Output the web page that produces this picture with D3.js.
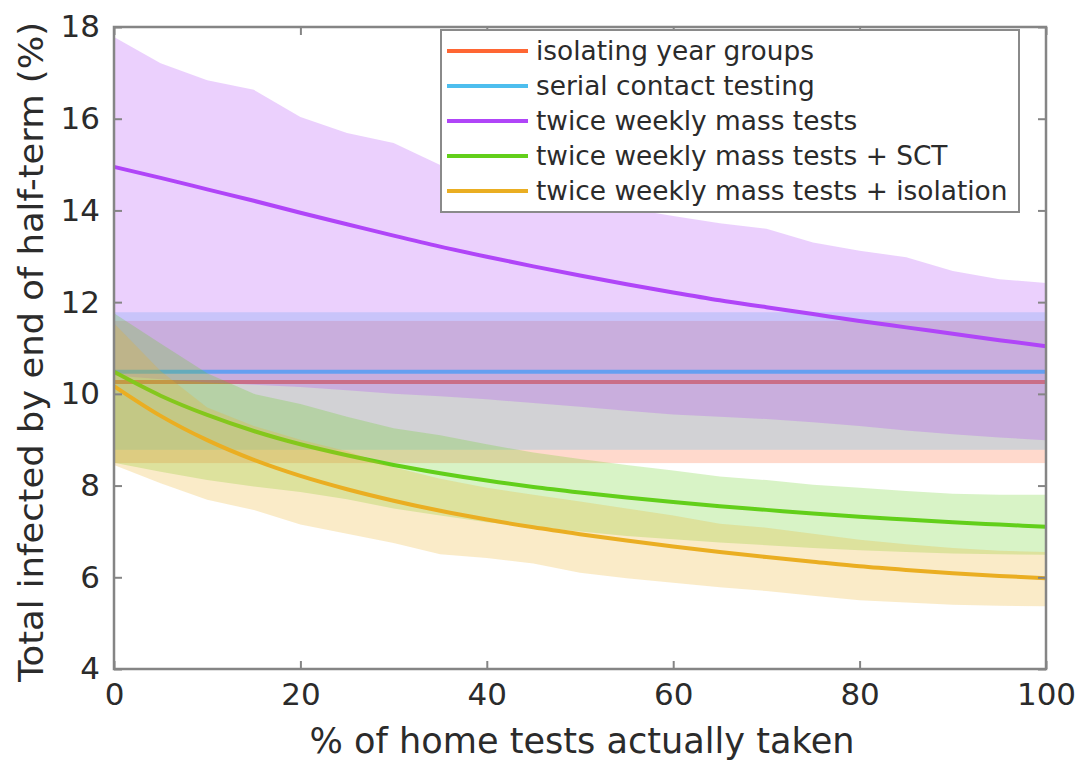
<!DOCTYPE html>
<html>
<head>
<meta charset="utf-8">
<script src="https://cdn.jsdelivr.net/npm/d3@7"></script>
<style>
  html, body { margin: 0; padding: 0; background: #fff; }
  svg text { font-family: "DejaVu Sans", sans-serif; fill: #2b2b2b; }
</style>
</head>
<body>
<svg id="chart" width="1080" height="762"></svg>
<script>
// % of home tests actually taken
const uptake = [0, 5, 10, 15, 20, 25, 30, 35, 40, 45, 50, 55, 60, 65, 70, 75, 80, 85, 90, 95, 100];

// twice weekly mass tests
const massMean  = [14.95, 14.71, 14.46, 14.21, 13.95, 13.70, 13.45, 13.21, 12.99, 12.78, 12.58, 12.39, 12.21, 12.04, 11.89, 11.74, 11.59, 11.45, 11.31, 11.17, 11.04];
const massUpper = [17.78, 17.21, 16.84, 16.63, 16.04, 15.69, 15.47, 14.99, 14.75, 14.50, 14.30, 14.05, 13.88, 13.72, 13.60, 13.30, 13.12, 12.98, 12.68, 12.50, 12.42];
const massLower = [10.40, 10.32, 10.25, 10.20, 10.15, 10.08, 10.00, 9.95, 9.88, 9.80, 9.72, 9.63, 9.55, 9.50, 9.45, 9.38, 9.30, 9.20, 9.12, 9.05, 8.99];

// twice weekly mass tests + SCT
const sctMean  = [10.48, 9.96, 9.54, 9.19, 8.90, 8.66, 8.45, 8.27, 8.11, 7.97, 7.85, 7.74, 7.64, 7.55, 7.47, 7.39, 7.32, 7.26, 7.20, 7.15, 7.10];
const sctUpper = [11.76, 11.10, 10.45, 10.00, 9.78, 9.50, 9.25, 9.10, 8.90, 8.72, 8.58, 8.45, 8.33, 8.20, 8.12, 8.02, 7.95, 7.88, 7.82, 7.80, 7.80];
const sctLower = [8.50, 8.30, 8.12, 7.98, 7.86, 7.70, 7.50, 7.35, 7.20, 7.10, 7.00, 6.90, 6.83, 6.76, 6.70, 6.64, 6.59, 6.55, 6.52, 6.50, 6.49];

// twice weekly mass tests + isolation
const isoMean  = [10.17, 9.52, 8.99, 8.56, 8.21, 7.92, 7.67, 7.45, 7.26, 7.09, 6.94, 6.80, 6.67, 6.55, 6.44, 6.34, 6.24, 6.16, 6.09, 6.03, 5.98];
const isoUpper = [11.54, 10.50, 9.70, 9.30, 9.00, 8.75, 8.40, 8.15, 7.95, 7.80, 7.65, 7.50, 7.35, 7.17, 7.08, 6.95, 6.82, 6.72, 6.64, 6.58, 6.55];
const isoLower = [8.45, 8.05, 7.69, 7.47, 7.15, 6.95, 6.75, 6.50, 6.42, 6.30, 6.10, 5.98, 5.88, 5.78, 5.70, 5.60, 5.50, 5.45, 5.40, 5.38, 5.37];

// strategies that do not depend on home-test uptake: [lower, mean, upper]
const yearGroups = [8.49, 10.26, 11.59];
const serialContact = [8.78, 10.48, 11.78];

const legendLabels = [
  "isolating year groups",
  "serial contact testing",
  "twice weekly mass tests",
  "twice weekly mass tests + SCT",
  "twice weekly mass tests + isolation"
];
const colors = ["#FF6633", "#4DBEEE", "#B045F8", "#62CF1A", "#EAAE22"];

const xTicks = [0, 20, 40, 60, 80, 100];
const yTicks = [4, 6, 8, 10, 12, 14, 16, 18];

const svg = d3.select("#chart");
const plot = { left: 114, right: 1046, top: 27, bottom: 669 };

const x = d3.scaleLinear().domain([0, 100]).range([plot.left, plot.right]);
const y = d3.scaleLinear().domain([4, 18]).range([plot.bottom, plot.top]);

const band = (lo, hi) => d3.area()
  .x((d, i) => x(uptake[i]))
  .y0((d, i) => y(lo[i]))
  .y1((d, i) => y(hi[i]));

const meanLine = d3.line()
  .x((d, i) => x(uptake[i]))
  .y(d => y(d))
  .curve(d3.curveMonotoneX);

const g = svg.append("g");
const alpha = 0.25;
const lw = 4;

// constant strategies
function flatStrategy(vals, color) {
  g.append("rect")
    .attr("x", x(0)).attr("width", x(100) - x(0))
    .attr("y", y(vals[2])).attr("height", y(vals[0]) - y(vals[2]))
    .attr("fill", color).attr("fill-opacity", alpha);
  g.append("line")
    .attr("x1", x(0)).attr("x2", x(100))
    .attr("y1", y(vals[1])).attr("y2", y(vals[1]))
    .attr("stroke", color).attr("stroke-width", lw);
}
flatStrategy(yearGroups, colors[0]);
flatStrategy(serialContact, colors[1]);

// uptake-dependent strategies
const series = [
  { mean: massMean, lo: massLower, hi: massUpper, color: colors[2] },
  { mean: sctMean, lo: sctLower, hi: sctUpper, color: colors[3] },
  { mean: isoMean, lo: isoLower, hi: isoUpper, color: colors[4] }
];
series.forEach(s => {
  g.append("path")
    .attr("d", band(s.lo, s.hi)(uptake))
    .attr("fill", s.color).attr("fill-opacity", alpha);
  g.append("path")
    .attr("d", meanLine(s.mean))
    .attr("fill", "none")
    .attr("stroke", s.color).attr("stroke-width", lw);
});

// axes box with inward ticks on all sides
const axisColor = "#858585";
const tickLen = 8;
const axes = svg.append("g");

axes.append("g")
  .attr("transform", `translate(0,${plot.bottom})`)
  .call(d3.axisBottom(x).tickValues(xTicks).tickSize(-tickLen).tickPadding(14).tickFormat(d3.format("d")))
  .call(a => a.selectAll("text").attr("font-size", 31).attr("dy", "0.71em"));
axes.append("g")
  .attr("transform", `translate(0,${plot.top})`)
  .call(d3.axisTop(x).tickValues(xTicks).tickSize(-tickLen).tickFormat(""));
axes.append("g")
  .attr("transform", `translate(${plot.left},0)`)
  .call(d3.axisLeft(y).tickValues(yTicks).tickSize(-tickLen).tickPadding(14).tickFormat(d3.format("d")))
  .call(a => a.selectAll("text").attr("font-size", 31));
axes.append("g")
  .attr("transform", `translate(${plot.right},0)`)
  .call(d3.axisRight(y).tickValues(yTicks).tickSize(-tickLen).tickFormat(""));

axes.selectAll(".domain").attr("stroke", "none");
axes.selectAll(".tick line").attr("stroke", axisColor).attr("stroke-width", 2);
axes.selectAll(".tick text").attr("fill", "#2b2b2b").attr("font-family", "DejaVu Sans");

axes.append("rect")
  .attr("x", plot.left).attr("y", plot.top)
  .attr("width", plot.right - plot.left).attr("height", plot.bottom - plot.top)
  .attr("fill", "none").attr("stroke", axisColor).attr("stroke-width", 2.5);

// axis titles
svg.append("text")
  .attr("x", 582).attr("y", 753)
  .attr("text-anchor", "middle").attr("font-size", 35)
  .attr("textLength", 545).attr("lengthAdjust", "spacingAndGlyphs")
  .text("% of home tests actually taken");
svg.append("text")
  .attr("transform", `translate(43,352) rotate(-90)`)
  .attr("text-anchor", "middle").attr("font-size", 34)
  .attr("textLength", 660).attr("lengthAdjust", "spacingAndGlyphs")
  .text("Total infected by end of half-term (%)");

// legend
const leg = svg.append("g");
leg.append("rect")
  .attr("x", 441).attr("y", 30).attr("width", 578).attr("height", 182)
  .attr("fill", "#fff").attr("stroke", "#8a8a8a").attr("stroke-width", 2);
legendLabels.forEach((label, i) => {
  const ly = 51 + i * 35;
  leg.append("line")
    .attr("x1", 447).attr("x2", 528).attr("y1", ly).attr("y2", ly)
    .attr("stroke", colors[i]).attr("stroke-width", lw);
  leg.append("text")
    .attr("x", 536).attr("y", ly).attr("dy", "0.35em")
    .attr("font-size", 26.4)
    .text(label);
});
</script>
</body>
</html>
